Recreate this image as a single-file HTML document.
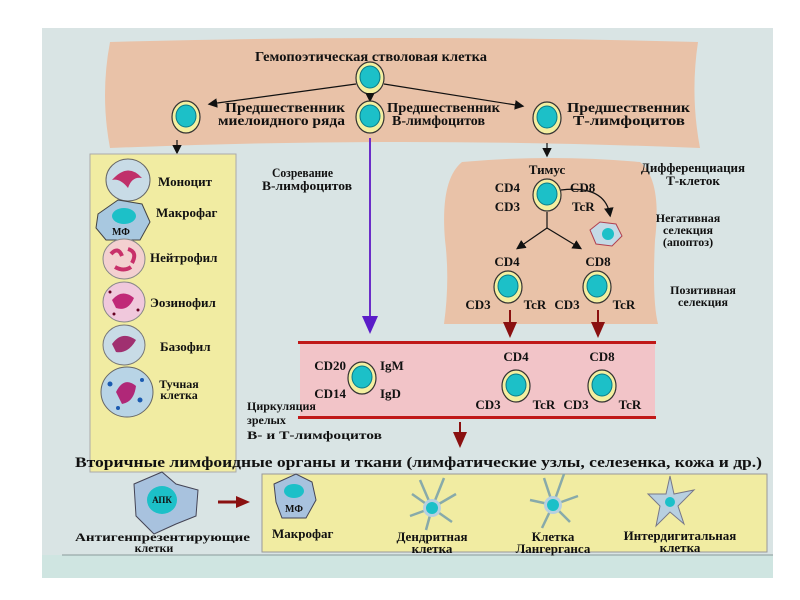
<!DOCTYPE html>
<html><head><meta charset="utf-8"><style>
html,body{margin:0;padding:0;background:#fff;}
svg{display:block;}
text{font-family:"Liberation Serif",serif;font-weight:bold;fill:#111;}
</style></head><body>
<svg width="800" height="600" viewBox="0 0 800 600" xmlns="http://www.w3.org/2000/svg">
<defs>
<g id="cell"><ellipse cx="0" cy="0" rx="14" ry="16" fill="#f3efa0" stroke="#333" stroke-width="1.2"/><ellipse cx="0" cy="-1" rx="10" ry="11" fill="#1cc0c8" stroke="#0a7a88" stroke-width="1"/></g>
<marker id="ab" markerWidth="8" markerHeight="8" refX="6" refY="4" orient="auto"><path d="M0,0 L8,4 L0,8 z" fill="#111"/></marker>
</defs>
<rect x="42" y="28" width="731" height="550" fill="#d9e4e4"/>
<rect x="42" y="555" width="731" height="23" fill="#cfe5e1"/>
<line x1="62" y1="555" x2="773" y2="555" stroke="#8a9a9a" stroke-width="1"/>
<!-- top peach -->
<path d="M110,42 Q400,34 698,42 Q690,95 700,148 Q400,136 110,148 Q100,95 110,42 z" fill="#e9c2a8"/>
<text x="255" y="61" font-size="14" textLength="232" lengthAdjust="spacingAndGlyphs">Гемопоэтическая стволовая клетка</text>
<use href="#cell" x="370" y="78"/>
<line x1="356" y1="84" x2="210" y2="104" stroke="#111" stroke-width="1.2" marker-end="url(#ab)"/>
<line x1="370" y1="94" x2="370" y2="100" stroke="#111" stroke-width="1.2" marker-end="url(#ab)"/>
<line x1="384" y1="84" x2="522" y2="106" stroke="#111" stroke-width="1.2" marker-end="url(#ab)"/>
<use href="#cell" x="186" y="117"/><use href="#cell" x="370" y="117"/><use href="#cell" x="547" y="118"/>
<text x="225" y="112" font-size="14" textLength="120" lengthAdjust="spacingAndGlyphs">Предшественник</text>
<text x="218" y="125" font-size="14" textLength="127" lengthAdjust="spacingAndGlyphs">миелоидного ряда</text>
<text x="387" y="112" font-size="14" textLength="113" lengthAdjust="spacingAndGlyphs">Предшественник</text>
<text x="392" y="125" font-size="14" textLength="93" lengthAdjust="spacingAndGlyphs">В-лимфоцитов</text>
<text x="567" y="112" font-size="14" textLength="123" lengthAdjust="spacingAndGlyphs">Предшественник</text>
<text x="573" y="125" font-size="14" textLength="112" lengthAdjust="spacingAndGlyphs">Т-лимфоцитов</text>
<line x1="177" y1="140" x2="177" y2="152" stroke="#111" stroke-width="1.2" marker-end="url(#ab)"/>
<line x1="547" y1="143" x2="547" y2="155" stroke="#111" stroke-width="1.2" marker-end="url(#ab)"/>
<!-- left yellow -->
<rect x="90" y="154" width="146" height="318" fill="#f1eca2" stroke="#aaa" stroke-width="1"/>
<g>
<ellipse cx="128" cy="180" rx="22" ry="21" fill="#c8dbe6" stroke="#666"/><path d="M112,180 Q128,162 142,178 Q132,176 128,188 Q120,178 112,180z" fill="#c0306a"/>
<text x="158" y="186" font-size="13">Моноцит</text>
<path d="M98,214 L118,200 L142,204 L150,222 L140,240 L106,240 L96,228z" fill="#a8c8e0" stroke="#444"/><ellipse cx="124" cy="216" rx="12" ry="8" fill="#1cc0c8"/>
<text x="112" y="235" font-size="10">МФ</text>
<text x="156" y="217" font-size="13">Макрофаг</text>
<ellipse cx="124" cy="259" rx="21" ry="20" fill="#f3d0d0" stroke="#888"/><path d="M111,254 Q118,246 122,256 M128,249 Q138,252 132,263 M115,267 Q124,272 131,267" stroke="#c8306a" stroke-width="4" fill="none"/>
<text x="150" y="262" font-size="13">Нейтрофил</text>
<ellipse cx="124" cy="302" rx="21" ry="20" fill="#f0c8dc" stroke="#888"/><path d="M112,300 Q122,288 134,298 Q128,312 116,308z" fill="#c02878"/>
<circle cx="110" cy="292" r="1.5" fill="#602"/><circle cx="138" cy="310" r="1.5" fill="#602"/><circle cx="114" cy="314" r="1.5" fill="#602"/>
<text x="150" y="307" font-size="13">Эозинофил</text>
<ellipse cx="124" cy="345" rx="21" ry="20" fill="#c8dbe6" stroke="#777"/><path d="M112,344 Q122,330 136,340 Q128,354 116,352z" fill="#a03070"/>
<text x="160" y="351" font-size="13">Базофил</text>
<ellipse cx="127" cy="392" rx="26" ry="25" fill="#b8d4e6" stroke="#666"/><path d="M116,392 Q124,376 136,386 Q134,402 122,404z" fill="#b02878"/>
<circle cx="110" cy="384" r="2.5" fill="#1a5ab0"/><circle cx="140" cy="400" r="2.5" fill="#1a5ab0"/><circle cx="118" cy="408" r="2" fill="#1a5ab0"/><circle cx="142" cy="380" r="2" fill="#1a5ab0"/>
<text x="179" y="388" font-size="12" text-anchor="middle">Тучная</text>
<text x="179" y="399" font-size="12" text-anchor="middle">клетка</text>
</g>
<text x="272" y="177" font-size="13" textLength="61" lengthAdjust="spacingAndGlyphs">Созревание</text>
<text x="262" y="190" font-size="13" textLength="90" lengthAdjust="spacingAndGlyphs">В-лимфоцитов</text>
<!-- purple arrow -->
<line x1="370" y1="138" x2="370" y2="320" stroke="#6a2cc8" stroke-width="2"/>
<path d="M362,316 L378,316 L370,334z" fill="#5a1cc8"/>
<!-- thymus -->
<path d="M462,162 Q550,154 640,162 Q662,180 655,240 Q652,300 658,324 L444,324 Q450,280 445,240 Q440,180 462,162z" fill="#e9c2a8"/>
<text x="547" y="174" font-size="13" text-anchor="middle">Тимус</text>
<text x="693" y="172" font-size="13" text-anchor="middle">Дифференциация</text>
<text x="693" y="185" font-size="13" text-anchor="middle">Т-клеток</text>
<use href="#cell" x="547" y="195"/>
<text x="520" y="192" font-size="13" text-anchor="end">CD4</text>
<text x="520" y="211" font-size="13" text-anchor="end">CD3</text>
<text x="570" y="192" font-size="13">CD8</text>
<text x="572" y="211" font-size="13">TcR</text>
<path d="M561,190 Q605,185 610,215" stroke="#111" stroke-width="1.2" fill="none" marker-end="url(#ab)"/>
<path d="M590,230 L600,222 L616,224 L622,236 L612,246 L596,244z" fill="#c4dae6" stroke="#b04050"/><circle cx="608" cy="234" r="6" fill="#1cc0c8"/>
<text x="688" y="222" font-size="12" text-anchor="middle">Негативная</text>
<text x="688" y="234" font-size="12" text-anchor="middle">селекция</text>
<text x="688" y="246" font-size="12" text-anchor="middle">(апоптоз)</text>
<line x1="547" y1="212" x2="547" y2="228" stroke="#111" stroke-width="1.2"/>
<line x1="547" y1="228" x2="518" y2="248" stroke="#111" stroke-width="1.2" marker-end="url(#ab)"/>
<line x1="547" y1="228" x2="580" y2="248" stroke="#111" stroke-width="1.2" marker-end="url(#ab)"/>
<text x="507" y="266" font-size="13" text-anchor="middle">CD4</text>
<text x="598" y="266" font-size="13" text-anchor="middle">CD8</text>
<use href="#cell" x="508" y="287"/><use href="#cell" x="597" y="287"/>
<text x="478" y="309" font-size="13" text-anchor="middle">CD3</text>
<text x="535" y="309" font-size="13" text-anchor="middle">TcR</text>
<text x="567" y="309" font-size="13" text-anchor="middle">CD3</text>
<text x="624" y="309" font-size="13" text-anchor="middle">TcR</text>
<text x="703" y="294" font-size="12" text-anchor="middle">Позитивная</text>
<text x="703" y="306" font-size="12" text-anchor="middle">селекция</text>
<!-- red arrows -->
<g fill="#8a1010" stroke="#8a1010">
<line x1="510" y1="310" x2="510" y2="325" stroke-width="2"/><path d="M503,322 L517,322 L510,338z" stroke="none"/>
<line x1="598" y1="310" x2="598" y2="325" stroke-width="2"/><path d="M591,322 L605,322 L598,338z" stroke="none"/>
<line x1="460" y1="422" x2="460" y2="434" stroke-width="2"/><path d="M453,432 L467,432 L460,448z" stroke="none"/>
<line x1="218" y1="502" x2="238" y2="502" stroke-width="3"/><path d="M236,496 L250,502 L236,508z" stroke="none"/>
</g>
<!-- band -->
<rect x="300" y="343" width="355" height="75" fill="#f2c4c8"/>
<rect x="298" y="341" width="358" height="3" fill="#c01818"/>
<rect x="298" y="416" width="358" height="3" fill="#c01818"/>
<use href="#cell" x="362" y="378"/>
<text x="346" y="370" font-size="13" text-anchor="end">CD20</text>
<text x="346" y="398" font-size="13" text-anchor="end">CD14</text>
<text x="380" y="370" font-size="13">IgM</text>
<text x="380" y="398" font-size="13">IgD</text>
<text x="516" y="361" font-size="13" text-anchor="middle">CD4</text>
<text x="602" y="361" font-size="13" text-anchor="middle">CD8</text>
<use href="#cell" x="516" y="386"/><use href="#cell" x="602" y="386"/>
<text x="488" y="409" font-size="13" text-anchor="middle">CD3</text>
<text x="544" y="409" font-size="13" text-anchor="middle">TcR</text>
<text x="576" y="409" font-size="13" text-anchor="middle">CD3</text>
<text x="630" y="409" font-size="13" text-anchor="middle">TcR</text>
<text x="247" y="410" font-size="12">Циркуляция</text>
<text x="247" y="424" font-size="12">зрелых</text>
<text x="247" y="439" font-size="12" textLength="135" lengthAdjust="spacingAndGlyphs">В- и Т-лимфоцитов</text>
<text x="75" y="467" font-size="15" textLength="687" lengthAdjust="spacingAndGlyphs">Вторичные лимфоидные органы и ткани (лимфатические узлы, селезенка, кожа и др.)</text>
<!-- APC -->
<path d="M134,484 L162,472 L176,484 L198,490 L196,516 L176,524 L154,534 L136,516z" fill="#a8c2de" stroke="#445"/>
<ellipse cx="162" cy="500" rx="15" ry="14" fill="#1cc0c8"/>
<text x="162" y="503" font-size="9" text-anchor="middle">АПК</text>
<text x="75" y="541" font-size="12" textLength="175" lengthAdjust="spacingAndGlyphs">Антигенпрезентирующие</text>
<text x="154" y="552" font-size="12" text-anchor="middle">клетки</text>
<!-- bottom yellow -->
<rect x="262" y="474" width="505" height="78" fill="#f1eca2" stroke="#999"/>
<path d="M274,484 L296,474 L312,482 L316,500 L306,518 L282,518 L276,502z" fill="#a8c2de" stroke="#445"/>
<ellipse cx="294" cy="491" rx="10" ry="7" fill="#1cc0c8"/>
<text x="294" y="512" font-size="10" text-anchor="middle">МФ</text>
<text x="272" y="538" font-size="13">Макрофаг</text>
<g stroke="#8aa" stroke-width="2.5" fill="none"><path d="M432,508 L420,480 M432,508 L444,478 M432,508 L456,494 M432,508 L452,522 M432,508 L426,530 M432,508 L410,516 M432,508 L412,494"/></g>
<circle cx="432" cy="508" r="9" fill="#b8d0e0"/><circle cx="432" cy="508" r="6" fill="#1cc0c8"/>
<text x="432" y="541" font-size="13" text-anchor="middle">Дендритная</text>
<text x="432" y="553" font-size="13" text-anchor="middle">клетка</text>
<g stroke="#8aa" stroke-width="2.5" fill="none"><path d="M553,505 L544,478 M553,505 L564,474 M553,505 L578,496 M553,505 L570,522 M553,505 L542,528 M553,505 L530,500"/></g>
<circle cx="553" cy="505" r="9" fill="#b8d0e0"/><circle cx="553" cy="505" r="6" fill="#1cc0c8"/>
<text x="553" y="541" font-size="13" text-anchor="middle">Клетка</text>
<text x="553" y="553" font-size="13" text-anchor="middle">Лангерганса</text>
<path d="M670,476 L674,494 L694,490 L678,506 L684,524 L670,512 L656,526 L660,506 L648,494 L666,494z" fill="#b8d0e0" stroke="#778"/>
<circle cx="670" cy="502" r="5" fill="#1cc0c8"/>
<text x="680" y="540" font-size="13" text-anchor="middle">Интердигитальная</text>
<text x="680" y="552" font-size="13" text-anchor="middle">клетка</text>
</svg>
</body></html>
